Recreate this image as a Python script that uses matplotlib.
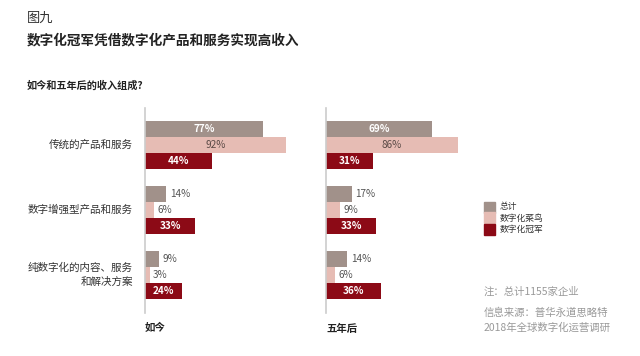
import matplotlib

matplotlib.use("Agg")

import matplotlib.pyplot as plt
import numpy as np
from matplotlib.patches import Rectangle

plt.rcParams["font.family"] = ["Noto Sans CJK SC", "DejaVu Sans"]

categories = ["传统的产品和服务", "数字增强型产品和服务", "纯数字化的内容、服务\n和解决方案"]
series_names = ["总计", "数字化菜鸟", "数字化冠军"]
now_values = [[77, 14, 9], [92, 6, 3], [44, 33, 24]]
future_values = [[69, 17, 14], [86, 9, 6], [31, 33, 36]]
panel_titles = ["如今", "五年后"]

colors = ["#a1918a", "#e6bcb4", "#8c0a16"]
label_inside = ["white", "#5a4a46", "white"]
label_outside = "#555555"

fig = plt.figure(figsize=(6.4, 3.56), dpi=100)
W, H = 640, 356


def px_axes(x0, y0, w, h):
    return fig.add_axes([x0 / W, 1 - (y0 + h) / H, w / W, h / H])


def draw_panel(ax, values, title):
    y = np.arange(len(categories))
    bh = 0.246
    for k, vals in enumerate(values):
        pos = y + (k - 1) * bh
        ax.barh(pos, vals, height=bh, color=colors[k], edgecolor="none")
        for p, v in zip(pos, vals):
            if v >= 20:
                ax.text(v / 2, p, f"{v}%", ha="center", va="center",
                        color=label_inside[k], fontsize=7.2,
                        fontweight="bold" if k != 1 else "normal")
            else:
                ax.text(v + 2.3, p, f"{v}%", ha="left", va="center",
                        color=label_outside, fontsize=7.2)
    ax.set_xlim(0, 100)
    ax.set_ylim(2.585, -0.569)
    for s in ["top", "right", "bottom"]:
        ax.spines[s].set_visible(False)
    ax.spines["left"].set_color("#cccccc")
    ax.spines["left"].set_linewidth(1.2)
    ax.set_xticks([])
    ax.set_yticks([])
    ax.text(0, -0.075, title, transform=ax.transAxes, ha="left", va="center",
            fontsize=7.5, fontweight="bold", color="#222222")


ax1 = px_axes(145, 108, 153, 205)
draw_panel(ax1, now_values, panel_titles[0])
ax2 = px_axes(326, 108, 153, 205)
draw_panel(ax2, future_values, panel_titles[1])

for i, c in enumerate(categories):
    ax1.text(-0.08, i, c, transform=ax1.get_yaxis_transform(), ha="right",
             va="center", fontsize=7.6, color="#333333", linespacing=1.5)

fig.text(27 / W, 1 - 18 / H, "图九", fontsize=9.5, fontweight="light",
         color="#333333", va="center")
fig.text(27 / W, 1 - 40 / H, "数字化冠军凭借数字化产品和服务实现高收入",
         fontsize=9.8, fontweight="bold", color="#222222", va="center")
fig.text(27 / W, 1 - 86 / H, "如今和五年后的收入组成?", fontsize=7.3,
         fontweight="bold", color="#222222", va="center")

# legend
for k, name in enumerate(series_names):
    yc = 207 + k * 11
    fig.patches.append(Rectangle((484 / W, 1 - (yc + 5.5) / H), 11 / W, 11 / H,
                                 transform=fig.transFigure, color=colors[k]))
    fig.text(500 / W, 1 - yc / H, name, fontsize=6.3, color="#333333",
             va="center")

fig.text(484 / W, 1 - 292 / H, "注：总计1155家企业", fontsize=7.5,
         color="#999999", va="center")
fig.text(484 / W, 1 - 313 / H, "信息来源：普华永道思略特", fontsize=7.5,
         color="#999999", va="center")
fig.text(484 / W, 1 - 328 / H, "2018年全球数字化运营调研", fontsize=7.5,
         color="#999999", va="center")

fig.savefig("out.png", dpi=100)
